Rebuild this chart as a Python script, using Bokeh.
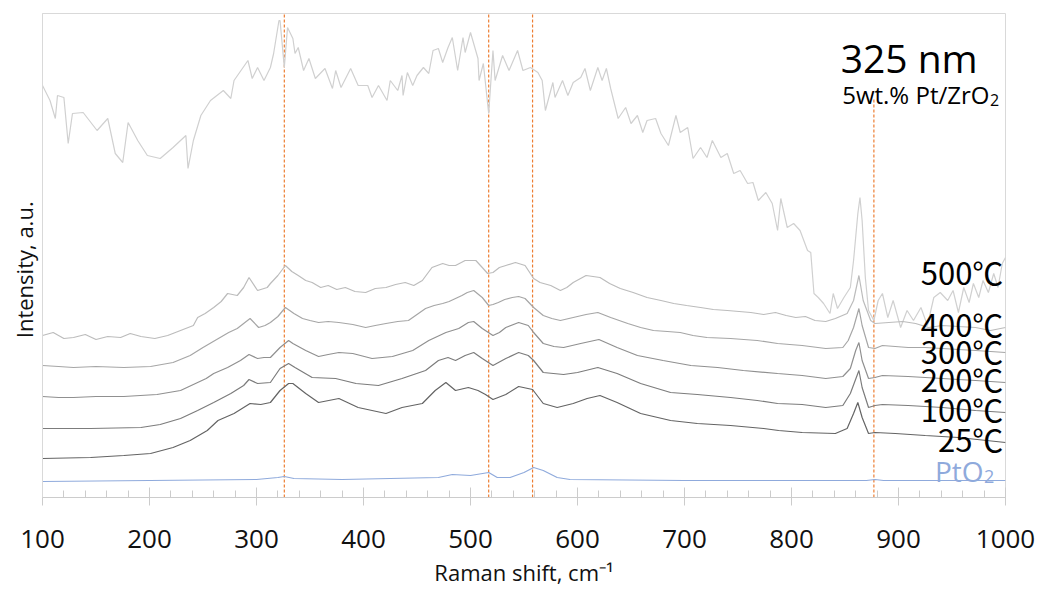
from bokeh.plotting import figure
from bokeh.models import Range1d, SingleIntervalTicker, FixedTicker
from bokeh.core.properties import value
from bokeh.embed import file_html
from bokeh.resources import INLINE

# Raman shift (cm^-1) and stacked intensity (a.u., offset per spectrum)
x500 = [100,107,112,114,120,124,128,138,151,161,168,175,180,189,198,210,222,234,236,241,
        248,257,269,276,279,292,296,301,307,313,316,321,322,326,329,334,336,339,344,349,
        355,364,371,374,379,388,395,404,408,414,422,425,432,436,437,441,446,450,456,461,
        465,470,474,479,483,488,493,495,500,507,508,512,517,521,523,530,536,544,549,556,
        563,567,570,577,579,586,591,596,603,607,612,619,623,627,631,638,645,650,656,661,
        665,673,678,685,692,696,703,708,715,721,726,734,740,746,752,759,764,769,776,782,
        787,790,796,802,808,815,818,821,825,830,836,839,843,849,855,858,862,864,866,869,
        872,877,881,885,890,895,902,908,914,921,927,933,939,946,951,956,961,966,970,975,
        979,984,989,993,997,1000]
y500 = [412,397,379,402,400,354,384,385,367,379,344,335,375,357,342,339,350,362,329,357,
        382,397,407,399,417,437,419,430,417,430,444,477,477,430,470,459,444,450,427,439,
        419,429,409,427,410,429,412,412,400,412,397,417,407,422,402,425,412,422,430,424,
        447,449,435,450,460,427,460,445,465,439,417,434,384,447,417,442,427,447,427,430,
        425,417,387,415,400,417,402,415,420,429,407,430,417,429,409,379,390,374,382,365,
        377,379,364,352,382,365,370,339,350,340,357,340,344,324,327,314,315,297,305,294,
        267,299,270,274,267,247,245,204,200,194,184,204,189,200,210,237,284,300,277,220,
        187,177,197,204,180,197,170,187,177,190,172,200,205,197,207,185,210,195,214,200,
        217,205,224,210,234,240]

x400 = [100,110,120,129,140,150,161,173,182,192,205,217,229,241,245,252,260,267,273,282,
        288,293,301,310,313,320,327,333,339,346,352,360,367,375,383,392,402,411,421,430,
        439,447,455,464,474,480,486,495,505,511,516,521,527,533,542,551,559,565,575,584,
        590,596,608,621,630,640,652,665,678,690,702,715,727,740,751,762,774,785,795,804,
        813,822,832,841,852,858,863,867,874,878,891,904,916,928,941,956,972,986,1000]
y400 = [162,165,159,160,163,158,161,160,164,161,159,162,167,172,180,184,190,196,204,202,
        210,220,207,210,214,222,232,226,222,217,215,210,212,208,210,206,205,209,210,213,
        215,212,217,230,234,232,232,237,237,230,224,225,230,232,235,232,219,215,212,207,
        210,215,222,220,214,209,205,200,197,194,192,190,188,187,186,185,183,185,182,180,
        181,177,176,179,184,197,222,197,177,174,175,176,174,170,172,171,170,167,170]

x300 = [100,115,129,150,176,201,222,238,250,258,266,274,282,288,294,302,308,313,320,327,
        335,343,350,358,367,377,390,402,411,421,432,442,450,458,466,474,480,486,492,497,
        503,511,517,521,526,532,539,545,551,559,568,576,584,596,608,619,631,647,659,671,
        684,696,708,721,743,768,787,810,832,848,853,858,863,866,872,878,885,897,909,925,
        941,956,972,986,1000]
y300 = [132,131,130,131,130,131,135,142,150,155,160,165,169,174,179,170,172,175,181,190,
        184,179,177,175,176,175,173,170,172,174,176,177,183,189,192,194,196,199,202,205,
        207,200,192,193,195,198,200,201,199,190,182,179,177,180,183,185,180,174,170,167,
        166,165,162,160,159,157,154,152,149,150,157,170,189,172,150,149,152,151,150,150,
        149,148,147,146,145]

x200 = [100,115,129,150,176,207,229,245,253,260,273,285,293,301,307,313,322,330,334,346,
        358,367,377,390,408,427,446,461,477,489,498,503,511,521,527,533,545,554,559,568,
        578,587,603,620,637,656,680,706,731,755,787,810,832,848,855,860,863,866,872,878,
        885,909,925,941,956,972,986,1000]
y200 = [101,100,100,101,101,103,107,115,119,124,130,137,143,139,140,140,150,157,154,147,
        141,143,145,144,139,141,147,157,165,169,175,176,169,162,165,170,175,172,165,154,
        151,150,154,158,150,142,137,132,130,127,124,122,119,121,129,147,155,137,119,120,
        122,121,120,119,118,117,116,115]

x100 = [100,145,192,210,229,245,260,276,288,293,301,313,322,330,336,352,374,393,414,436,
        458,470,479,486,495,503,511,521,533,545,554,559,568,587,600,619,637,659,687,712,
        743,768,787,810,832,848,855,863,866,872,878,885,909,941,972,1000]
y100 = [69,69,70,73,79,87,95,104,112,118,114,115,129,134,130,120,119,114,112,119,
        127,137,140,137,142,145,139,132,139,145,142,137,125,123,125,130,124,114,105,103,
        100,97,94,93,90,92,104,127,110,90,92,93,92,90,87,85]

x25 = [100,145,176,201,222,238,254,264,279,294,304,313,322,330,334,346,358,377,395,421,
       436,455,467,477,486,498,507,514,521,533,545,558,568,581,596,609,621,637,659,687,
       712,743,774,788,810,841,852,858,862,866,872,878,897,925,956,1000]
y25 = [39,40,42,44,50,57,67,77,84,94,93,95,107,114,114,104,95,99,90,84,
       90,94,107,115,107,110,107,103,98,103,111,108,94,90,94,99,102,95,84,77,
       74,72,69,67,65,64,69,84,95,80,64,65,64,62,60,55]

x_pto2 = [100,200,300,320,326,335,380,470,483,500,517,525,537,550,559,568,581,593,700,870,878,886,1000]
y_pto2 = [16,17,18,20,21,19,18,20,23,22,25,20,20,25,30,27,20,18,17,17,18,17,17]

# reference band positions (cm^-1)
band_x = [326, 517, 558, 877]

temp_labels = ["500\u2103", "400\u2103", "300\u2103", "200\u2103", "100\u2103", "25\u2103"]

FONT = "Open Sans, Noto Sans CJK JP"
CJK = "Noto Sans CJK JP"

p = figure(width=1038, height=591, output_backend="svg", toolbar_location=None,
           x_range=Range1d(100, 1000), y_range=Range1d(0, 484),
           min_border_left=42, min_border_right=33, min_border_top=13, min_border_bottom=94)

p.background_fill_color = "white"
p.border_fill_color = "white"
p.outline_line_color = "#d9d9d9"
p.outline_line_width = 1
p.xgrid.visible = False
p.ygrid.visible = False

# x axis
xa = p.xaxis[0]
xa.ticker = SingleIntervalTicker(interval=100, num_minor_ticks=5)
xa.axis_line_color = "#cccccc"
xa.major_tick_line_color = "#cccccc"
xa.minor_tick_line_color = "#cccccc"
xa.major_tick_in = 10
xa.major_tick_out = 8
xa.minor_tick_in = 7
xa.minor_tick_out = 0
xa.major_label_text_font = FONT
xa.major_label_text_font_size = "26px"
xa.major_label_text_color = "#111111"
xa.major_label_standoff = 24
xa.axis_label = "Raman shift, cm\u207b\u00b9"
xa.axis_label_text_font = FONT
xa.axis_label_text_font_size = "22px"
xa.axis_label_text_font_style = "normal"
xa.axis_label_text_color = "#111111"
xa.axis_label_standoff = 6

# y axis: label only (trailing no-break spaces nudge the label below centre)
ya = p.yaxis[0]
ya.ticker = FixedTicker(ticks=[])
ya.axis_line_color = "#d9d9d9"
ya.major_tick_line_color = None
ya.minor_tick_line_color = None
ya.major_label_standoff = 0
ya.major_tick_out = 0
ya.major_tick_in = 0
ya.axis_label = "Intensity, a.u." + "\u00a0" * 5
ya.axis_label_text_font = FONT
ya.axis_label_text_font_size = "22px"
ya.axis_label_text_font_style = "normal"
ya.axis_label_text_color = "#111111"
ya.axis_label_standoff = 4

# band markers
p.segment(x0=band_x, y0=[0, 0, 0, 0], x1=band_x, y1=[484, 484, 484, 399],
          line_color="#ed7d31", line_width=1.2, line_dash="3 2")

# spectra
series = [
    (x500, y500, "#d0d0d0"),
    (x400, y400, "#bcbcbc"),
    (x300, y300, "#a6a6a6"),
    (x200, y200, "#909090"),
    (x100, y100, "#7c7c7c"),
    (x25, y25, "#646464"),
]
for xs, ys, col in series:
    p.line(xs, ys, line_color=col, line_width=1.2)
p.line(x_pto2, y_pto2, line_color="#8faadc", line_width=1.2)

# temperature labels
p.text(x=[998] * 6, y=[226, 174, 147, 119, 89, 59], text=temp_labels,
       text_align="right", text_baseline="alphabetic",
       text_font=value(CJK), text_font_size="31px", text_color="#000000")

# PtO2 label
p.text(x=[979.5], y=[27], text=["PtO"], text_align="right", text_baseline="alphabetic",
       text_font=value(FONT), text_font_size="28px", text_color="#8faadc")
p.text(x=[980], y=[21], text=["2"], text_align="left", text_baseline="alphabetic",
       text_font=value(FONT), text_font_size="18px", text_color="#8faadc")

# heading
p.text(x=[974], y=[440], text=["325 nm"], text_align="right", text_baseline="alphabetic",
       text_font=value(FONT), text_font_size="39px", text_color="#000000")
p.text(x=[985], y=[403], text=["5wt.% Pt/ZrO"], text_align="right", text_baseline="alphabetic",
       text_font=value(FONT), text_font_size="24px", text_color="#000000")
p.text(x=[985.5], y=[398], text=["2"], text_align="left", text_baseline="alphabetic",
       text_font=value(FONT), text_font_size="16px", text_color="#000000")

open("out.html", "w").write(file_html(p, INLINE))
